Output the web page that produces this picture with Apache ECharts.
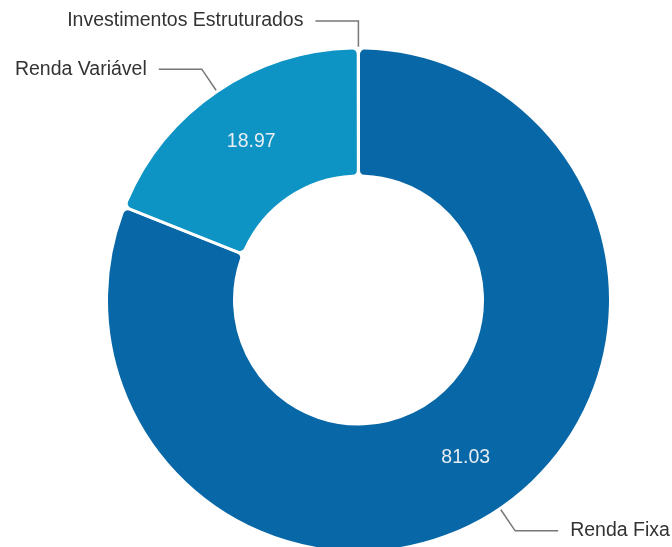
<!DOCTYPE html>
<html>
<head>
<meta charset="utf-8">
<script src="https://cdn.jsdelivr.net/npm/echarts@6/dist/echarts.min.js"></script>
<style>
html,body{margin:0;padding:0;background:#fff;}
#chart{width:672px;height:547px;}
</style>
</head>
<body>
<div id="chart"></div>
<script>
const categories = ['Renda Fixa', 'Renda Variável', 'Investimentos Estruturados'];
const values = [81.03, 18.97, 0.01];
const colors = ['#0867A6', '#0E94C4', '#1FA0CC'];

const chart = echarts.init(document.getElementById('chart'), null, {renderer: 'canvas'});

const baseData = categories.map((name, i) => ({
  name: name,
  value: values[i],
  itemStyle: {color: colors[i]}
}));

const center = [358.5, 300];
const radius = [124, 252];
const font = 'Liberation Sans, Arial, sans-serif';

chart.setOption({
  animation: false,
  backgroundColor: '#fff',
  series: [
    {
      type: 'pie',
      center: center,
      radius: radius,
      startAngle: 90,
      clockwise: true,
      avoidLabelOverlap: false,
      itemStyle: {borderColor: '#fff', borderWidth: 3, borderRadius: 6},
      label: {
        show: true,
        position: 'inside',
        formatter: p => p.value >= 1 ? p.value.toFixed(2) : '',
        color: '#e6edf3',
        fontSize: 19.5,
        fontFamily: font
      },
      labelLine: {show: false},
      data: baseData
    },
    {
      type: 'pie',
      silent: true,
      center: center,
      radius: radius,
      startAngle: 90,
      clockwise: true,
      avoidLabelOverlap: false,
      itemStyle: {color: 'rgba(0,0,0,0)', borderWidth: 0},
      label: {
        show: true,
        position: 'outside',
        formatter: '{b}',
        color: '#333',
        fontSize: 19.5,
        fontFamily: font,
        distanceToLabelLine: 12
      },
      labelLine: {
        show: true,
        length: 27,
        length2: 43,
        lineStyle: {color: '#777', width: 1.5}
      },
      data: categories.map((name, i) => ({name: name, value: values[i]}))
    }
  ]
});
</script>
</body>
</html>
